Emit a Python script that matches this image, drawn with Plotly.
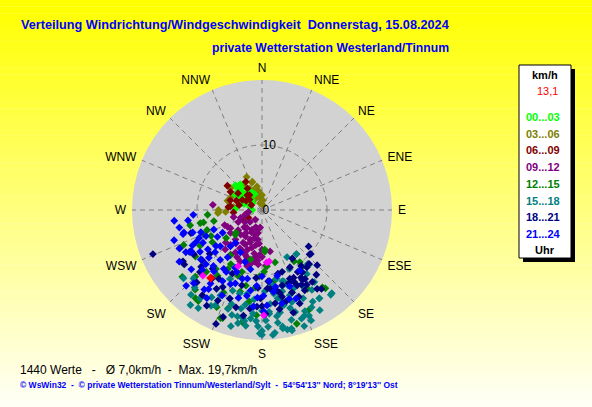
import plotly.graph_objects as go

# ---------------- data (direction in degrees, speed in km/h) ----------------
hours = ["00...03", "03...06", "06...09", "09...12", "12...15", "15...18", "18...21", "21...24"]
colors = ["#00ff00", "#808000", "#800000", "#800080", "#008000", "#008080", "#000080", "#0000ff"]

dir_00_03 = [313, 311, 312, 308, 311, 299, 272, 297, 284, 295, 270, 318, 325, 305, 290, 302, 315, 330, 320, 300, 288, 310, 335, 306, 296]
spd_00_03 = [5.6, 5.0, 4.1, 3.7, 3.0, 3.8, 4.1, 2.4, 1.9, 2.8, 1.5, 4.6, 3.9, 4.4, 3.3, 2.6, 2.2, 3.2, 5.2, 4.8, 2.9, 3.5, 2.7, 1.8, 3.1]

dir_03_06 = [340, 323, 345, 0, 344, 267, 267, 292, 336, 341, 359, 270, 266, 330, 350, 310, 300, 355, 320, 285, 335, 315, 5, 348, 328, 276, 305, 10]
spd_03_06 = [4.5, 4.8, 2.4, 2.3, 1.1, 5.6, 6.7, 5.2, 3.3, 4.6, 2.3, 6.7, 6.8, 3.8, 3.0, 4.2, 4.0, 1.8, 2.8, 5.5, 5.6, 3.5, 1.5, 3.7, 2.0, 4.4, 5.9, 0.8]

dir_06_09 = [305, 275, 242, 240, 297, 326, 305, 287, 277, 300, 315, 290, 320, 282, 310, 295, 255, 330, 300, 265]
spd_06_09 = [6.5, 5.2, 3.3, 2.4, 3.4, 4.0, 4.5, 5.1, 4.9, 2.8, 3.2, 4.2, 3.0, 3.6, 2.5, 1.8, 2.6, 5.0, 5.6, 4.4]

dir_09_12 = [254, 225, 207, 196, 188, 202, 206, 221, 222, 222, 201, 188, 184, 192, 203, 215, 223, 180, 186, 215, 262, 243,
             244, 234, 169, 276, 256, 195, 210, 200, 190, 215, 230, 185, 197, 212, 183, 205, 193, 220, 250, 195, 248, 240,
             200, 205, 190, 195, 185, 210, 218, 228, 208, 198, 188, 180, 176, 212, 200, 226, 235, 190]
spd_09_12 = [2.7, 2.6, 3.4, 3.9, 4.6, 4.9, 5.9, 5.0, 6.1, 7.2, 7.3, 7.3, 8.4, 8.5, 8.6, 8.4, 8.3, 6.1, 2.7, 1.8, 2.1, 4.1,
             5.9, 6.0, 6.5, 7.6, 4.5, 6.0, 6.8, 5.3, 5.5, 4.3, 4.8, 7.8, 8.0, 7.7, 6.9, 3.8, 3.0, 3.6, 3.5, 8.9, 6.2, 5.6,
             6.5, 7.0, 6.8, 4.5, 5.2, 5.8, 6.5, 7.5, 8.2, 7.6, 8.0, 7.2, 8.6, 4.8, 2.8, 3.8, 3.2, 3.6]

dir_12_15 = [258, 258, 258, 246, 243, 237, 215, 200, 199, 229, 265, 257, 247, 217, 176, 163, 141, 142, 166, 168, 182, 210,
             214, 200, 192, 193, 175, 148, 145, 176, 144, 183, 201, 218, 227, 205, 195, 222, 210, 188,
             240, 235, 225, 230, 220, 205, 190, 185, 178, 170, 160, 150, 155, 198, 215, 232, 250]
spd_12_15 = [11.3, 9.7, 9.2, 13.2, 8.8, 9.1, 17.1, 17.7, 16.0, 5.3, 8.4, 7.6, 9.7, 17.0, 6.1, 18.3, 15.5, 15.1, 8.3, 15.0, 10.2, 9.6,
             12.2, 10.8, 11.9, 7.8, 8.7, 9.3, 10.7, 6.4, 9.9, 16.2, 17.8, 11.5, 5.6, 14.0, 13.0, 12.8, 10.5, 14.2,
             11.0, 12.5, 14.5, 16.0, 16.0, 16.5, 17.5, 12.0, 9.5, 11.0, 13.5, 14.0, 17.0, 10.0, 8.5, 7.0, 9.0]

dir_15_18 = [142, 139, 144, 140, 147, 150, 156, 157, 166, 170, 172, 180, 182, 176, 166, 162, 161, 164, 225, 221, 217, 215,
             208, 206, 199, 193, 189, 192, 186, 190, 200, 175, 170, 166, 176, 183, 190, 196, 206, 164, 156, 151, 147, 141,
             140, 142, 152, 168, 165, 162, 152, 195, 205, 178, 172, 185, 175, 168, 190, 180,
             145, 150, 155, 158, 160, 162, 170, 174, 178, 185, 188, 195, 200, 210, 213, 220, 229, 167, 173, 155,
             165, 168, 172, 177, 181, 160, 153, 148, 158, 163, 170, 180, 186, 192, 198]
spd_15_18 = [8.6, 11.1, 13.7, 16.7, 16.2, 17.8, 18.6, 16.9, 19.1, 18.5, 17.5, 18.6, 17.9, 15.7, 12.9, 14.9, 12.3, 11.4, 14.9, 15.8, 18.3, 16.6,
             16.7, 14.6, 16.1, 16.8, 17.3, 15.5, 16.8, 13.1, 13.2, 19.3, 18.2, 18.8, 16.0, 17.1, 16.9, 16.8, 16.3, 15.7, 17.8, 16.1, 16.2, 16.8,
             10.9, 8.6, 8.2, 10.8, 12.1, 13.8, 13.2, 13.3, 11.7, 12.5, 13.0, 13.8, 14.5, 14.0, 14.8, 19.2,
             12.0, 13.5, 15.0, 17.5, 19.0, 16.5, 16.0, 19.0, 17.0, 16.0, 18.0, 18.5, 14.5, 15.5, 18.0, 17.0, 16.0, 15.0, 11.5, 10.0,
             17.5, 18.8, 16.5, 18.0, 19.0, 17.8, 16.8, 14.5, 13.0, 11.5, 13.8, 15.5, 15.0, 17.8, 15.2]

dir_18_21 = [128, 132, 142, 150, 145, 143, 156, 166, 174, 180, 183, 167, 154, 147, 149, 133, 148, 158, 176, 181, 187, 200,
             202, 210, 207, 216, 235, 240, 252, 248, 237, 227, 206, 237, 155, 160, 150, 165, 170, 175, 185, 195, 190, 210,
             220, 230, 205,
             140, 135, 145, 152, 158, 163, 168, 172, 178, 183, 195, 200, 215, 225, 222, 245, 230, 212, 162,
             150, 155, 160, 152, 148, 157, 165, 170, 145, 139]
spd_18_21 = [9.1, 10.1, 11.2, 12.4, 14.8, 15.2, 12.1, 10.1, 12.2, 14.8, 14.9, 13.7, 9.8, 11.4, 13.4, 10.0, 8.8, 11.4, 12.1, 13.6, 15.3, 14.5,
             18.9, 17.0, 13.3, 13.0, 14.6, 12.9, 11.5, 18.1, 14.5, 12.8, 15.5, 12.5, 12.8, 13.5, 11.0, 12.0, 15.5, 11.0, 10.5, 12.0, 16.5, 14.0,
             11.8, 10.5, 10.8,
             13.0, 12.0, 10.5, 14.0, 15.5, 16.5, 13.0, 14.5, 16.0, 12.0, 15.5, 17.5, 16.0, 13.5, 15.0, 14.0, 12.0, 12.5, 10.0,
             12.0, 11.5, 12.0, 13.0, 12.5, 14.5, 14.5, 12.5, 13.5, 11.0]

dir_21_24 = [251, 253, 252, 241, 239, 244, 241, 231, 230, 223, 214, 221, 213, 228, 229, 248, 240, 263, 266, 254, 246, 240,
             234, 226, 221, 239, 216, 219, 207, 198, 191, 180, 174, 184, 192, 202, 203, 209, 215, 216, 190, 179, 177, 167,
             172, 163, 159, 168, 179, 185, 148,
             245, 250, 236, 225, 232, 218, 210, 205, 200, 196, 188, 212, 225, 238, 245, 258, 195, 205, 220, 228, 170, 160, 183, 262, 243]
spd_21_24 = [14.3, 12.7, 11.2, 13.4, 12.7, 11.3, 10.4, 12.1, 14.2, 15.4, 14.7, 11.4, 10.8, 9.7, 8.5, 8.0, 7.0, 13.6, 10.6, 12.5, 10.6, 12.6,
             10.3, 12.0, 7.4, 8.0, 9.0, 6.5, 7.3, 8.4, 9.3, 10.2, 11.0, 11.7, 10.8, 10.3, 12.4, 12.5, 13.8, 15.1, 13.4, 13.2, 14.7, 10.4,
             12.7, 14.3, 14.6, 14.7, 15.6, 14.9, 11.0,
             9.5, 10.0, 11.5, 13.0, 9.0, 12.0, 11.0, 9.8, 12.0, 11.0, 12.5, 16.0, 16.5, 15.0, 14.0, 13.0, 14.0, 14.5, 10.0, 11.0, 12.0, 12.5, 13.5, 11.5, 12.0]

dir_recent = [203, 175, 222, 179, 172]
spd_recent = [9.4, 8.1, 13.6, 16.2, 8.0]

dir_current = [217]
spd_current = [13.1]

compass_vals = [0, 22.5, 45, 67.5, 90, 112.5, 135, 157.5, 180, 202.5, 225, 247.5, 270, 292.5, 315, 337.5]
compass_text = ["N", "NNE", "NE", "ENE", "E", "ESE", "SE", "SSE", "S", "SSW", "SW", "WSW", "W", "WNW", "NW", "NNW"]
radial_ticks = [0, 10]

legend_unit = "km/h"
legend_current = "13,1"
legend_footer = "Uhr"
title_line1 = "Verteilung Windrichtung/Windgeschwindigkeit  Donnerstag, 15.08.2024"
title_line2 = "private Wetterstation Westerland/Tinnum"
stats_text = "1440 Werte   -   Ø 7,0km/h  -  Max. 19,7km/h"
credit_text = "© WsWin32  -  © private Wetterstation Tinnum/Westerland/Sylt  -  54°54'13'' Nord; 8°19'13'' Ost"

series_dirs = [dir_00_03, dir_03_06, dir_06_09, dir_09_12, dir_12_15, dir_15_18, dir_18_21, dir_21_24]
series_spds = [spd_00_03, spd_03_06, spd_06_09, spd_09_12, spd_12_15, spd_15_18, spd_18_21, spd_21_24]

# drawing order: olive under lime, maroon above, then the rest chronologically
draw_order = [1, 0, 2, 3, 4, 5, 6, 7]

# ---------------- figure ----------------
W, H = 592, 407
fig = go.Figure()

for k in draw_order:
    fig.add_trace(go.Scatterpolar(theta=series_dirs[k], r=series_spds[k], mode="markers", name=hours[k],
                                  showlegend=False,
                                  marker=dict(symbol="diamond", size=6, color=colors[k], line=dict(width=0))))
fig.add_trace(go.Scatterpolar(theta=dir_recent, r=spd_recent, mode="markers", showlegend=False,
                              marker=dict(symbol="diamond", size=6, color="#ff00ff", line=dict(width=0))))
fig.add_trace(go.Scatterpolar(theta=dir_current, r=spd_current, mode="markers", showlegend=False,
                              marker=dict(symbol="diamond", size=7, color="#ff0000", line=dict(width=0))))

def px(x):
    return x / W

def py(y):
    return 1 - y / H

shapes = []
# vertical yellow -> white gradient background
n = 60
for i in range(n):
    t = i / (n - 1)
    b = int(round(0 + t * 245))
    shapes.append(dict(type="rect", xref="paper", yref="paper", x0=0, x1=1,
                       y0=1 - (i + 1) / n, y1=1 - i / n + 0.001, layer="below",
                       line=dict(width=0), fillcolor=f"rgb(255,255,{b})"))
# legend box shadow + box
shapes.append(dict(type="rect", xref="paper", yref="paper", x0=px(523), x1=px(575), y0=py(262), y1=py(69),
                   line=dict(width=0), fillcolor="#000000", layer="above"))
shapes.append(dict(type="rect", xref="paper", yref="paper", x0=px(519), x1=px(571), y0=py(258), y1=py(65),
                   line=dict(width=1, color="#000000"), fillcolor="#ffffff", layer="above"))

annotations = []
def txt(x, y, s, size, color, bold=False, xanchor="left"):
    annotations.append(dict(x=px(x), y=py(y), xref="paper", yref="paper", text=f"<b>{s}</b>" if bold else s,
                            showarrow=False, xanchor=xanchor, yanchor="middle",
                            font=dict(family="Liberation Sans, Arial", size=size, color=color)))

txt(19, 25, title_line1, 12.7, "#0000ff", bold=True)
txt(210, 48, title_line2, 12.2, "#0000ff", bold=True)
txt(18, 370, stats_text, 12, "#000000")
txt(18, 385, credit_text, 8.5, "#0000ff", bold=True)

txt(545, 75, legend_unit, 11, "#000000", bold=True, xanchor="center")
txt(560, 91, legend_current, 11, "#ff0000", xanchor="right")
y0 = 117
for i, (h, c) in enumerate(zip(hours, colors)):
    txt(524, y0 + i * 16.7, h, 11, c, bold=True)
txt(545, 250, legend_footer, 11, "#000000", bold=True, xanchor="center")

fig.update_layout(
    width=W, height=H,
    margin=dict(l=0, r=0, t=0, b=0),
    paper_bgcolor="#ffffff",
    shapes=shapes,
    annotations=annotations,
    font=dict(family="Liberation Sans, Arial", size=12, color="#000000"),
    polar=dict(
        domain=dict(x=[132 / W, 392 / W], y=[1 - 340 / H, 1 - 80 / H]),
        bgcolor="#d2d2d2",
        angularaxis=dict(direction="clockwise", rotation=90, tickmode="array",
                         tickvals=compass_vals, ticktext=compass_text,
                         showline=False, ticks="outside", ticklen=3, tickcolor="rgba(0,0,0,0)",
                         gridcolor="#808080", griddash="5px,4px", gridwidth=1,
                         tickfont=dict(size=12, color="#000000")),
        radialaxis=dict(range=[0, 20], tickmode="array", tickvals=radial_ticks,
                        ticktext=[str(v) for v in radial_ticks], angle=90, tickangle=90,
                        showline=False, ticks="", gridcolor="#808080", griddash="5px,4px",
                        tickfont=dict(size=12, color="#000000")),
    ),
)

fig.write_html("out.html", config={"displayModeBar": False},
               post_script="document.body.style.margin='0';document.body.style.overflow='hidden';")
